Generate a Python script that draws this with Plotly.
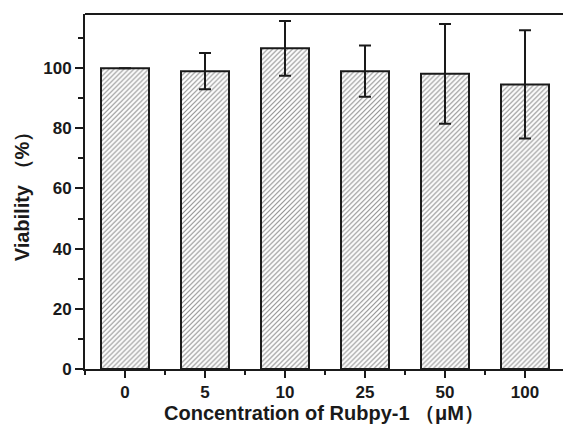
import plotly.graph_objects as go

categories = ["0", "5", "10", "25", "50", "100"]
viability = [100.0, 99.0, 106.6, 99.0, 98.1, 94.6]
errors = [None, 6.0, 9.1, 8.5, 16.6, 18.0]
y_ticks = [0, 20, 40, 60, 80, 100]

positions = list(range(len(categories)))

font_family = "Liberation Sans, Arial, sans-serif"
ink = "#1a1a1a"

fig = go.Figure()
fig.add_trace(go.Bar(
    x=positions,
    y=viability,
    width=0.6,
    marker=dict(
        color="white",
        line=dict(color=ink, width=2),
        pattern=dict(shape="/", fgcolor="#222222", bgcolor="white", size=3.5, solidity=0.33),
    ),
    error_y=dict(type="data", array=errors, visible=True, color=ink, thickness=2, width=6),
    showlegend=False,
))

axis_common = dict(
    showline=True, linecolor=ink, linewidth=2,
    ticks="outside", tickcolor=ink, tickwidth=2,
    showgrid=False, zeroline=False,
    tickfont=dict(family=font_family, size=17, color=ink),
)

fig.update_xaxes(
    **axis_common,
    range=[-0.5, 5.475],
    tickmode="array", tickvals=positions,
    ticktext=["<b>%s</b>" % c for c in categories], ticklen=7,
    minor=dict(ticks="outside", tick0=0.5, dtick=1, ticklen=4, tickcolor=ink, tickwidth=2),
    title=dict(text="<b>Concentration of Rubpy-1 （μM）</b>",
               font=dict(family=font_family, size=20, color=ink), standoff=5),
)
fig.update_yaxes(
    **axis_common,
    range=[0, 118], tickmode="array", tickvals=y_ticks,
    ticktext=["<b>%d</b>" % v for v in y_ticks], ticklen=8,
    minor=dict(ticks="outside", tick0=0, dtick=10, ticklen=5, tickcolor=ink, tickwidth=2),
    title=dict(text="<b>Viability （%）</b>",
               font=dict(family=font_family, size=20, color=ink), standoff=8),
)

fig.add_shape(type="line", xref="paper", yref="paper", x0=0, x1=1, y0=1, y1=1,
              line=dict(color=ink, width=2))

fig.update_layout(
    width=563, height=426,
    margin=dict(l=85, r=0, t=14, b=57),
    plot_bgcolor="white", paper_bgcolor="white",
    bargap=0.4,
)

fig.write_html("out.html")
